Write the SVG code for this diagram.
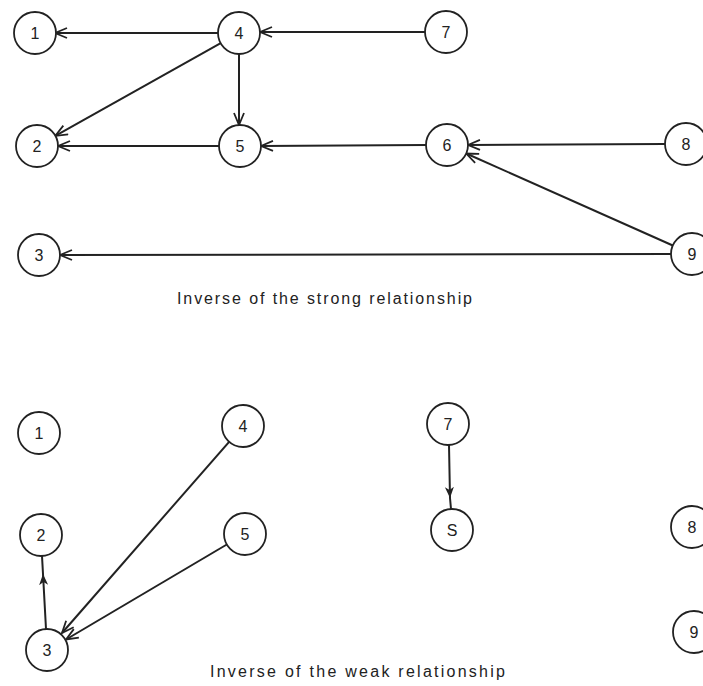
<svg xmlns="http://www.w3.org/2000/svg" width="703" height="686" viewBox="0 0 703 686">
<style>
.node circle{fill:#fff;stroke:#222;stroke-width:1.8}
.node text{font-family:"Liberation Sans",Arial,sans-serif;font-size:16px;fill:#222;text-anchor:middle}
.edge{stroke:#222;stroke-width:2;fill:none}
.open{marker-end:url(#open)}
.caption{font-family:"Liberation Sans",Arial,sans-serif;font-size:16px;fill:#222}
</style>
<defs>
<marker id="open" viewBox="0 0 14 12" refX="13" refY="6" markerWidth="14" markerHeight="12" markerUnits="userSpaceOnUse" orient="auto">
<path d="M1,1 L13,6 L1,11" fill="none" stroke="#222" stroke-width="1.8"/>
</marker>
<marker id="solid" viewBox="0 0 12 10" refX="11" refY="5" markerWidth="12" markerHeight="10" markerUnits="userSpaceOnUse" orient="auto">
<path d="M0,0.5 L11,5 L0,9.5 L3,5 Z" fill="#222"/>
</marker>
</defs>
<rect width="703" height="686" fill="#fff"/>
<g id="connectors">
<line class="edge open" x1="218" y1="33" x2="55" y2="33"/>
<line class="edge open" x1="425" y1="32" x2="260" y2="32"/>
<line class="edge open" x1="239" y1="54" x2="239" y2="125"/>
<line class="edge open" x1="220.7" y1="43.2" x2="55.3" y2="135.8"/>
<line class="edge open" x1="219" y1="146" x2="58" y2="146"/>
<line class="edge open" x1="426" y1="145" x2="261" y2="146"/>
<line class="edge open" x1="665" y1="144" x2="468" y2="145"/>
<line class="edge open" x1="672.8" y1="245.5" x2="466.2" y2="153.5"/>
<line class="edge open" x1="671" y1="254" x2="60" y2="255"/>
<path class="edge" d="M46,629 L43,574 L42,556" marker-mid="url(#solid)"/>
<path class="edge" d="M449,445 L450,498 L451,509" marker-mid="url(#solid)"/>
<line class="edge open" x1="229.1" y1="441.8" x2="62" y2="633"/>
<line class="edge open" x1="226.8" y1="544.5" x2="66" y2="639.5"/>
</g>
<g id="s1" class="node"><circle cx="35" cy="33" r="21"/><text x="35" y="39">1</text></g>
<g id="s2" class="node"><circle cx="37" cy="146" r="21"/><text x="37" y="152">2</text></g>
<g id="s3" class="node"><circle cx="39" cy="255" r="21"/><text x="39" y="261">3</text></g>
<g id="s4" class="node"><circle cx="239" cy="33" r="21"/><text x="239" y="39">4</text></g>
<g id="s5" class="node"><circle cx="240" cy="146" r="21"/><text x="240" y="152">5</text></g>
<g id="s6" class="node"><circle cx="447" cy="145" r="21"/><text x="447" y="151">6</text></g>
<g id="s7" class="node"><circle cx="446" cy="32" r="21"/><text x="446" y="38">7</text></g>
<g id="s8" class="node"><circle cx="686" cy="144" r="21"/><text x="686" y="150">8</text></g>
<g id="s9" class="node"><circle cx="692" cy="254" r="21"/><text x="692" y="260">9</text></g>
<text class="caption" x="177" y="304" textLength="295" lengthAdjust="spacing">Inverse of the strong relationship</text>
<g id="w1" class="node"><circle cx="39" cy="433" r="21"/><text x="39" y="439">1</text></g>
<g id="w2" class="node"><circle cx="41" cy="535" r="21"/><text x="41" y="541">2</text></g>
<g id="w3" class="node"><circle cx="47" cy="650" r="21"/><text x="47" y="656">3</text></g>
<g id="w4" class="node"><circle cx="243" cy="426" r="21"/><text x="243" y="432">4</text></g>
<g id="w5" class="node"><circle cx="245" cy="534" r="21"/><text x="245" y="540">5</text></g>
<g id="w7" class="node"><circle cx="448" cy="424" r="21"/><text x="448" y="430">7</text></g>
<g id="wS" class="node"><circle cx="452" cy="530" r="21"/><text x="452" y="536">S</text></g>
<g id="w8" class="node"><circle cx="692" cy="527" r="21"/><text x="692" y="533">8</text></g>
<g id="w9" class="node"><circle cx="694" cy="632" r="21"/><text x="694" y="638">9</text></g>
<text class="caption" x="210" y="677" textLength="295" lengthAdjust="spacing">Inverse of the weak relationship</text>
</svg>
